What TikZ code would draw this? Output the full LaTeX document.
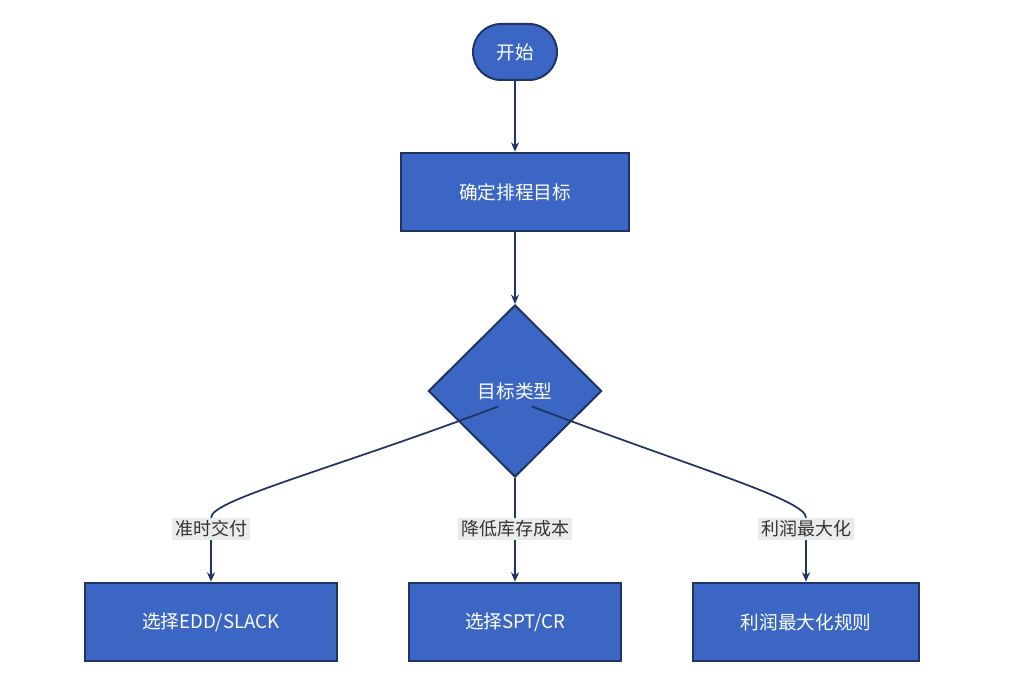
\documentclass[tikz,border=0pt]{standalone}
\usepackage{fontspec}
\setmainfont{Noto Sans CJK SC}
\usetikzlibrary{shapes.geometric,arrows.meta}
\definecolor{fillb}{HTML}{3B66C4}
\definecolor{edgeb}{HTML}{1E3461}
\begin{document}
\begin{tikzpicture}[x=0.75pt,y=-0.75pt,
 base/.style={draw=edgeb,line width=1.5pt,fill=fillb,text=white,font=\fontsize{14}{16}\selectfont,inner sep=0pt},
 box/.style={base,rectangle,minimum width=171pt,minimum height=59pt},
 lab/.style={fill=black!8,text=black!80,font=\fontsize{13.5}{16}\selectfont,inner sep=2pt},
 arr/.style={draw=edgeb,line width=1.3pt,-{Stealth[length=7pt,width=6pt]}}]
\useasboundingbox (0,0) rectangle (1024,688);
\node[base,rounded corners=21pt,minimum width=63pt,minimum height=42pt] (s) at (515,52) {开始};
\node[box] (g) at (515,192) {确定排程目标};
\node[base,diamond,aspect=1,minimum width=130pt,minimum height=129pt] (d) at (515,391) {目标类型};
\node[box,minimum width=189pt] (a) at (211,622) {选择EDD/SLACK};
\node[box,minimum width=159pt] (b) at (515,622) {选择SPT/CR};
\node[box,minimum width=170pt] (c) at (806,622) {利润最大化规则};
\node[box,minimum width=170pt,text opacity=0,draw opacity=0,fill opacity=0] at (806,622) {};
\node[lab] (la) at (211,529) {准时交付};
\node[lab] (lb) at (515,529) {降低库存成本};
\node[lab] (lc) at (806,529) {利润最大化};
\draw[arr] (s) -- (g);
\draw[arr] (g) .. controls (515,260) and (515,280) .. (d.north);
\draw[edgeb,line width=1.3pt] (d.south west) ++(27,-28) coordinate (dl) .. controls (330,470) and (211,500) .. (la.north);
\draw[arr] (la.south) -- (a.north);
\draw[edgeb,line width=1.3pt] (d.south) -- (lb.north);
\draw[arr] (lb.south) -- (b.north);
\draw[edgeb,line width=1.3pt] (d.south east) ++(-27,-28) coordinate (dr) .. controls (700,470) and (806,500) .. (lc.north);
\draw[arr] (lc.south) -- (c.north);
\end{tikzpicture}
\end{document}
